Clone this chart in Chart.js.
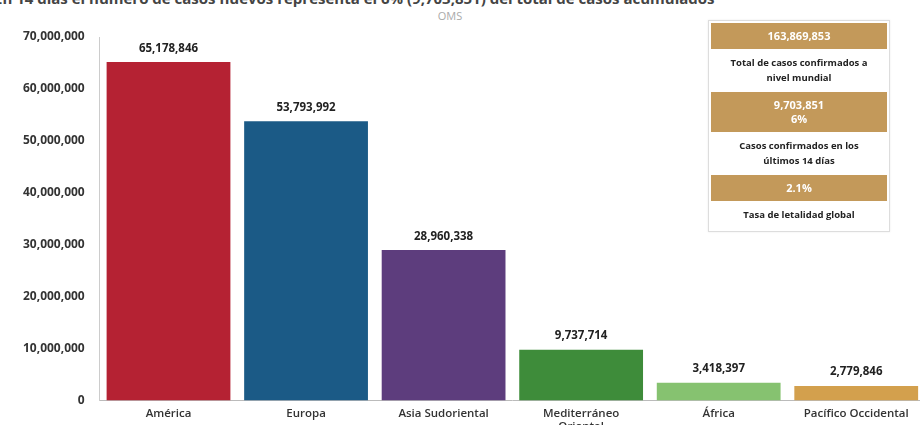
<!DOCTYPE html>
<html>
<head>
<meta charset="utf-8">
<script src="https://cdn.jsdelivr.net/npm/chart.js@4.4.1/dist/chart.umd.min.js"></script>
<style>
    html, body { margin: 0; padding: 0; background: #fff; overflow: hidden; width: 920px; height: 425px; }
    body { position: relative; font-family: 'Open Sans', sans-serif; }
    .top-title { position: absolute; top: -12px; left: -6px; white-space: nowrap; font-size: 15px; font-weight: 700; color: #444; }
    .subtitle { position: absolute; top: 8px; left: 0; width: 900px; text-align: center; font-size: 11px; color: #aaa; }
    .chart-wrap { position: absolute; left: 0; top: 0; width: 926px; height: 440px; }
    .info-box { position: absolute; left: 708px; top: 20px; width: 176px; border: 1px solid #ddd; background: #fff; padding: 2px 2px; box-shadow: 0 0 2px rgba(0,0,0,0.08); }
    .info-head { background: #c3995a; color: #fff; text-align: center; font-weight: 700; font-size: 11px; line-height: 14px; padding: 6px 0; }
    .info-body { color: #222; text-align: center; font-weight: 700; font-size: 9.5px; line-height: 15px; padding: 6px 2px 7px; }
</style>
</head>
<body>
<div class="top-title">En 14 días el número de casos nuevos representa el 6% (9,703,851) del total de casos acumulados</div>
<div class="subtitle">OMS</div>
<div class="chart-wrap"><canvas id="mainChart"></canvas></div>
<div class="info-box" id="info-box"></div>

<script>
const regions = ['América', 'Europa', 'Asia Sudoriental', ['Mediterráneo', 'Oriental'], 'África', 'Pacífico Occidental'];
const cases = [65178846, 53793992, 28960338, 9737714, 3418397, 2779846];
const barColors = ['#b52233', '#1b5a86', '#5d3d7d', '#3e8c3a', '#86c270', '#d3a04d'];
const yTicks = [0, 10000000, 20000000, 30000000, 40000000, 50000000, 60000000, 70000000];

const infoHeads = [['163,869,853'], ['9,703,851', '6%'], ['2.1%']];
const infoTexts = [['Total de casos confirmados a', 'nivel mundial'], ['Casos confirmados en los', 'últimos 14 días'], ['Tasa de letalidad global']];

const fmt = (v) => v.toLocaleString('en-US');

const renderInfoBox = () => {
    const box = document.getElementById('info-box');
    infoHeads.forEach((head, i) => {
        const h = document.createElement('div');
        h.className = 'info-head';
        h.innerHTML = head.join('<br>');
        box.appendChild(h);
        const b = document.createElement('div');
        b.className = 'info-body';
        b.innerHTML = infoTexts[i].join('<br>');
        box.appendChild(b);
    });
};

// values on top of the bars
const valueLabels = {
    id: 'valueLabels',
    afterDatasetsDraw(chart) {
        const ctx = chart.ctx;
        const meta = chart.getDatasetMeta(0);
        ctx.save();
        ctx.font = "700 11.5px 'Open Sans', sans-serif";
        ctx.fillStyle = '#222';
        ctx.textAlign = 'center';
        ctx.textBaseline = 'bottom';
        meta.data.forEach((bar, i) => {
            ctx.fillText(fmt(cases[i]), bar.x, bar.y - 8);
        });
        ctx.restore();
    }
};

const renderChart = () => {
    const ctx = document.getElementById('mainChart');
    new Chart(ctx, {
        type: 'bar',
        data: {
            labels: regions,
            datasets: [{
                data: cases,
                backgroundColor: barColors,
                borderWidth: 0,
                categoryPercentage: 1,
                barPercentage: 0.9
            }]
        },
        options: {
            responsive: true,
            maintainAspectRatio: false,
            animation: false,
            layout: { padding: { top: 37, left: 16, right: 1, bottom: 0 } },
            plugins: { legend: { display: false }, tooltip: { enabled: false } },
            scales: {
                x: {
                    grid: { display: false, drawTicks: false, tickLength: 0 },
                    border: { display: true, color: '#bbb' },
                    ticks: { color: '#333', padding: 6, maxRotation: 0, autoSkip: false, font: { family: "'Open Sans', sans-serif", size: 11.5, weight: '600' } }
                },
                y: {
                    min: 0,
                    max: 70000000,
                    afterBuildTicks: (axis) => { axis.ticks = yTicks.map(v => ({ value: v })); },
                    grid: { display: false },
                    border: { display: true, color: '#ccc' },
                    ticks: { color: '#333', padding: 7, callback: (v) => fmt(v), font: { family: "'Open Sans', sans-serif", size: 12, weight: '700' } }
                }
            }
        },
        plugins: [valueLabels]
    });
};

renderInfoBox();
renderChart();
</script>
</body>
</html>
